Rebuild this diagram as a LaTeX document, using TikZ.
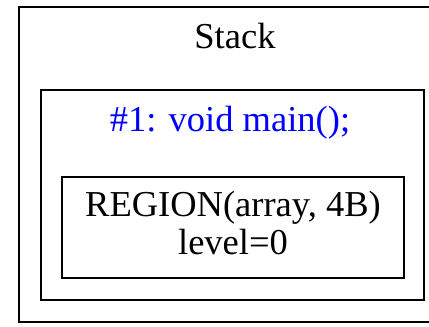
\documentclass[tikz,border=0pt]{standalone}
\usepackage{fontspec}
\setmainfont{Liberation Serif}
\definecolor{fnblue}{RGB}{0,0,255}
\begin{document}
\begin{tikzpicture}[x=1pt,y=1pt,
  boxline/.style={draw=black,line width=2pt},
  lbl/.style={inner sep=0pt,anchor=base,font=\fontsize{36.5}{38}\selectfont}]
\useasboundingbox (0,0) rectangle (429,327);
\clip (0,0) rectangle (429,327);
\draw[boxline] (19,320) rectangle (446,5);
\draw[boxline] (41,237) rectangle (424,27);
\draw[boxline] (62,150) rectangle (404,49);
\node[lbl] (stack) at (235,278) {Stack};
\node[lbl,text=fnblue] (frame) at (230,195) {\#1: void main();};
\node[lbl] (region) at (233,110) {REGION(array, 4B)};
\node[lbl] (level) at (233,72) {level=0};
\end{tikzpicture}
\end{document}
